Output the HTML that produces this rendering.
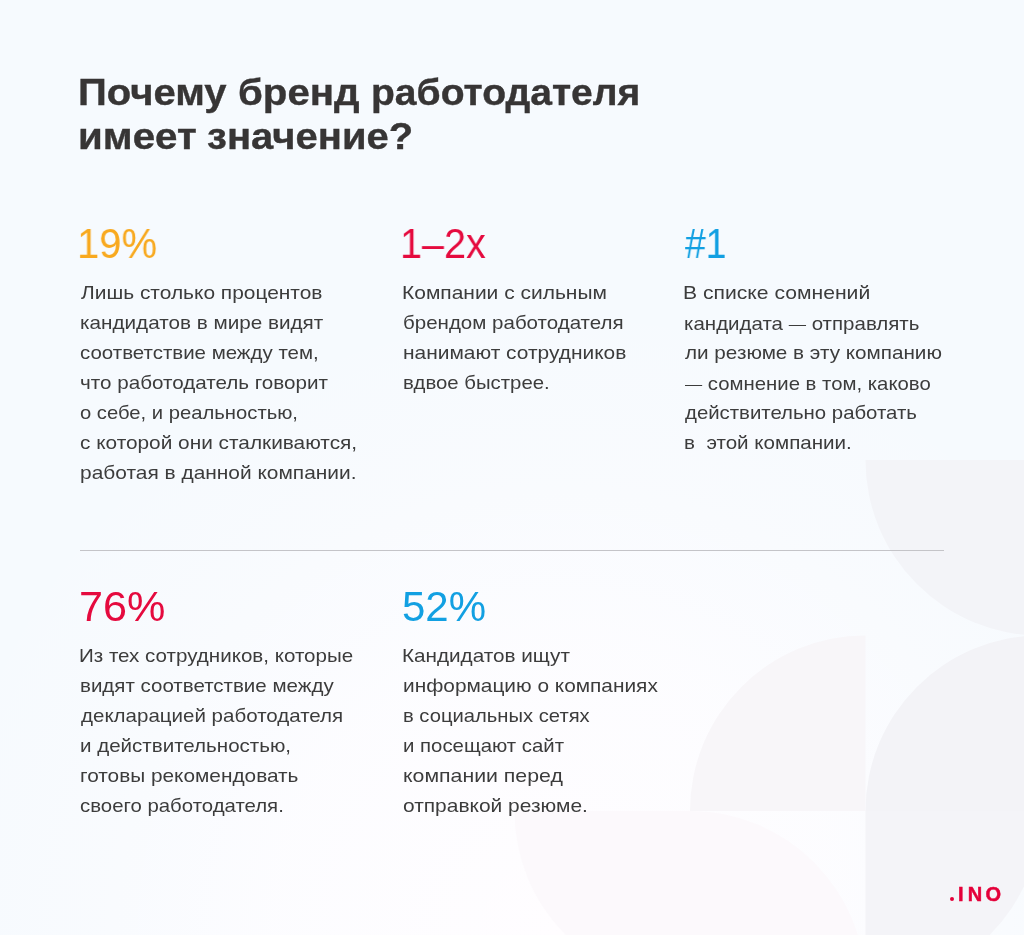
<!DOCTYPE html>
<html lang="ru"><head><meta charset="utf-8"><title>Почему бренд работодателя имеет значение?</title>
<style>
html,body{margin:0;padding:0;}
body{width:1024px;height:935px;overflow:hidden;position:relative;background:#f6f9fc;font-family:"Liberation Sans","DejaVu Sans",sans-serif;}
.bg{position:absolute;left:0;top:0;width:1024px;height:935px;}
.ttl,.st,.bd{position:absolute;white-space:pre;transform-origin:0 0;will-change:transform;}
.ttl{font-size:36px;line-height:36px;font-weight:700;color:#373535;-webkit-text-stroke:0.35px #373535;}
.st{font-size:42px;line-height:42px;font-weight:400;}
.bd{font-size:17.8px;line-height:17.8px;font-weight:400;color:#3c3c3c;}
.dash{font-size:15px;vertical-align:1px;}
.hr{position:absolute;left:80px;top:550px;width:864px;height:1px;background:#c4c4c8;}
.logo{position:absolute;left:0;top:884px;font-size:20px;line-height:20px;font-weight:700;color:#e4003a;white-space:pre;-webkit-text-stroke:0.5px #e4003a;will-change:transform;}
.lg{position:absolute;top:0;}
</style></head><body>
<svg class="bg" width="1024" height="935" viewBox="0 0 1024 935">
<defs>
<radialGradient id="g1" gradientUnits="userSpaceOnUse" cx="560" cy="935" r="640">
<stop offset="0" stop-color="#fffdff" stop-opacity="1"/>
<stop offset="0.45" stop-color="#fefdff" stop-opacity="0.8"/>
<stop offset="0.8" stop-color="#fcfcff" stop-opacity="0.3"/>
<stop offset="1" stop-color="#fcfcff" stop-opacity="0"/>
</radialGradient>
</defs>
<rect width="1024" height="935" fill="#f6fafe"/>
<rect width="1024" height="935" fill="url(#g1)"/>
<path d="M865.5 460 L1041 460 L1041 635.5 A175.5 175.5 0 0 1 865.5 460 Z" fill="#f3f4f8"/>
<path d="M1041 811 L865.5 811 A175.5 175.5 0 0 1 1041 635.5 Z" fill="#f3f3f7"/>
<path d="M865.5 811 L1041 811 A175.5 175.5 0 0 1 865.5 986.5 Z" fill="#f4f4f8"/>
<path d="M865.5 811 L690 811 A175.5 175.5 0 0 1 865.5 635.5 Z" fill="#f8f6f9"/>
<path d="M690 811 L514.5 811 A175.5 175.5 0 0 0 690 986.5 Z" fill="#fcf9fc"/>
<path d="M690 986.5 L690 811 A175.5 175.5 0 0 1 865.5 986.5 Z" fill="#fcf9fc"/>
</svg>
<div class="ttl" style="left:77.77px;top:74.53px;transform:scaleX(1.1123)">Почему</div>
<div class="ttl" style="left:237.76px;top:74.53px;transform:scaleX(1.1172)">бренд</div>
<div class="ttl" style="left:370.99px;top:74.53px;transform:scaleX(1.0845)">работодателя</div>
<div class="ttl" style="left:77.75px;top:118.53px;transform:scaleX(1.1206)">имеет</div>
<div class="ttl" style="left:207.10px;top:118.53px;transform:scaleX(1.1116)">значение?</div>
<div class="st"  style="color:#F8A91F;left:76.75px;top:223.45px;transform:scaleX(0.9526)">19%</div>
<div class="st"  style="color:#E50A3E;left:400.09px;top:223.45px;transform:scaleX(0.9425)">1–2x</div>
<div class="st"  style="color:#12A0E2;left:685.00px;top:223.45px;transform:scaleX(0.8889)">#1</div>
<div class="st"  style="color:#E50A3E;left:78.54px;top:586.45px;transform:scaleX(1.0273)">76%</div>
<div class="st"  style="color:#12A0E2;left:402.10px;top:586.45px;transform:scaleX(1.0000)">52%</div>
<div class="bd" style="left:81.00px;top:284.93px;transform:scaleX(1.1765)">Лишь столько процентов</div>
<div class="bd" style="left:79.84px;top:314.93px;transform:scaleX(1.1635)">кандидатов в мире видят</div>
<div class="bd" style="left:79.85px;top:344.93px;transform:scaleX(1.1512)">соответствие между тем,</div>
<div class="bd" style="left:79.84px;top:374.93px;transform:scaleX(1.1604)">что работодатель говорит</div>
<div class="bd" style="left:79.86px;top:404.93px;transform:scaleX(1.1376)">о себе, и реальностью,</div>
<div class="bd" style="left:79.83px;top:434.93px;transform:scaleX(1.1709)">с которой они сталкиваются,</div>
<div class="bd" style="left:79.82px;top:464.93px;transform:scaleX(1.1760)">работая в данной компании.</div>
<div class="bd" style="left:401.85px;top:284.93px;transform:scaleX(1.1792)">Компании с сильным</div>
<div class="bd" style="left:402.88px;top:314.93px;transform:scaleX(1.1535)">брендом работодателя</div>
<div class="bd" style="left:402.86px;top:344.93px;transform:scaleX(1.1766)">нанимают сотрудников</div>
<div class="bd" style="left:402.89px;top:374.93px;transform:scaleX(1.1445)">вдвое быстрее.</div>
<div class="bd" style="left:683.25px;top:284.93px;transform:scaleX(1.1884)">В списке сомнений</div>
<div class="bd" style="left:684.31px;top:314.93px;transform:scaleX(1.1524)">кандидата <span class="dash">—</span> отправлять</div>
<div class="bd" style="left:685.45px;top:344.93px;transform:scaleX(1.1628)">ли резюме в эту компанию</div>
<div class="bd" style="left:685.47px;top:374.93px;transform:scaleX(1.1440)"><span class="dash">—</span> сомнение в том, каково</div>
<div class="bd" style="left:685.46px;top:404.93px;transform:scaleX(1.1456)">действительно работать</div>
<div class="bd" style="left:684.29px;top:434.93px;transform:scaleX(1.1578)">в  этой компании.</div>
<div class="bd" style="left:78.84px;top:647.93px;transform:scaleX(1.1566)">Из тех сотрудников, которые</div>
<div class="bd" style="left:79.85px;top:677.93px;transform:scaleX(1.1535)">видят соответствие между</div>
<div class="bd" style="left:81.00px;top:707.93px;transform:scaleX(1.1540)">декларацией работодателя</div>
<div class="bd" style="left:79.84px;top:737.93px;transform:scaleX(1.1556)">и действительностью,</div>
<div class="bd" style="left:79.83px;top:767.93px;transform:scaleX(1.1708)">готовы рекомендовать</div>
<div class="bd" style="left:79.85px;top:797.93px;transform:scaleX(1.1463)">своего работодателя.</div>
<div class="bd" style="left:401.86px;top:647.93px;transform:scaleX(1.1637)">Кандидатов ищут</div>
<div class="bd" style="left:402.86px;top:677.93px;transform:scaleX(1.1722)">информацию о компаниях</div>
<div class="bd" style="left:402.88px;top:707.93px;transform:scaleX(1.1362)">в социальных сетях</div>
<div class="bd" style="left:402.89px;top:737.93px;transform:scaleX(1.1454)">и посещают сайт</div>
<div class="bd" style="left:402.84px;top:767.93px;transform:scaleX(1.1971)">компании перед</div>
<div class="bd" style="left:402.86px;top:797.93px;transform:scaleX(1.1780)">отправкой резюме.</div>
<div class="hr"></div>
<div class="logo"><span class="lg dotc" style="left:949.6px;top:12.6px;width:4.8px;height:4.8px;border-radius:50%;overflow:hidden;-webkit-text-stroke:0"><span style="position:absolute;left:-3.1px;top:-28.6px;font-size:40px;line-height:40px">.</span></span><span class="lg" style="left:957.9px">I</span><span class="lg" style="left:967.8px">N</span><span class="lg" style="left:985.5px">O</span></div>
</body></html>
